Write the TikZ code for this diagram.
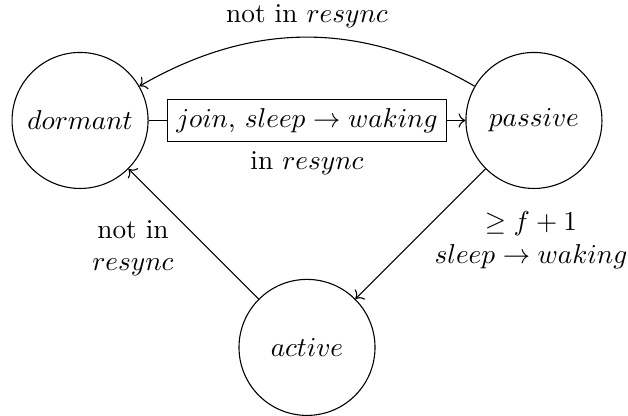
\documentclass[tikz,border=0pt]{standalone}
\usepackage{amsmath}
\usepackage{amssymb}
\usetikzlibrary{arrows.meta, positioning}

\begin{document}
\begin{tikzpicture}[
    state/.style={circle, draw, minimum size=1.75cm, inner sep=0pt},
    guard/.style={rectangle, draw, fill=white},
    arrow/.style={-{To}}
]
\useasboundingbox (-1.03,-3.80) rectangle (7.05,1.55);

% States
\node[state] (dormant) at (0,0) {$dormant$};
\node[state] (passive) at (5.84,0) {$passive$};
\node[state] (active) at (2.92,-2.92) {$active$};

% Transitions
\draw[arrow] (dormant) -- node[guard, label=below:{in $resync$}] (join) {$join$, $sleep \to waking$} (passive);
\draw[arrow] (passive) to[bend right=30] node[above] {not in $resync$} (dormant);
\draw[arrow] (passive) -- node[pos=0.55, right=4pt, align=center] {$\geq f+1$\\$sleep \to waking$} (active);
\draw[arrow] (active) -- node[pos=0.39, left=9pt, align=center] {not in\\$resync$} (dormant);

\end{tikzpicture}
\end{document}
